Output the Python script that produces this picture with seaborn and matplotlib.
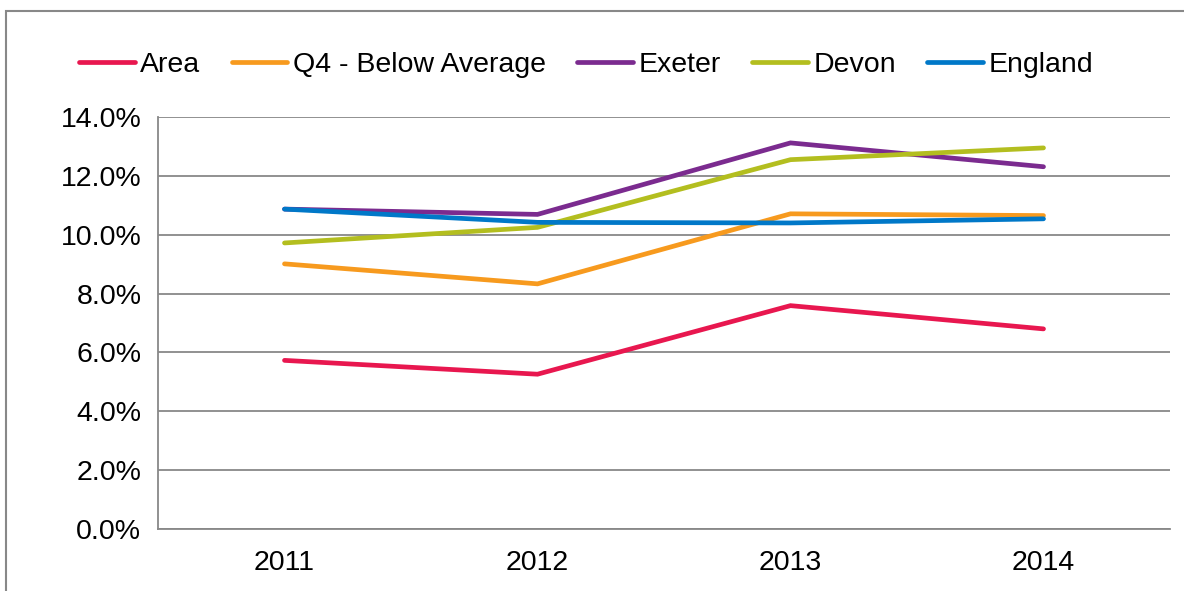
import seaborn as sns
import pandas as pd
import numpy as np
from matplotlib import pyplot as plt
from matplotlib.patches import Rectangle
from matplotlib.ticker import FuncFormatter

years = ["2011", "2012", "2013", "2014"]
area = [5.73, 5.26, 7.59, 6.80]
q4_below_avg = [9.01, 8.33, 10.71, 10.65]
exeter = [10.87, 10.69, 13.12, 12.31]
devon = [9.72, 10.25, 12.55, 12.95]
england = [10.87, 10.42, 10.40, 10.54]

series_names = ["Area", "Q4 - Below Average", "Exeter", "Devon", "England"]
colors = ["#E8174F", "#F79A1E", "#7B2B8F", "#B3BE1F", "#0078C8"]

sns.set_style("white")
plt.rcParams['font.family'] = ['Liberation Sans', 'DejaVu Sans']
plt.rcParams['text.color'] = 'black'
plt.rcParams['xtick.color'] = 'black'
plt.rcParams['ytick.color'] = 'black'

rows = []
for name, vals in zip(series_names, [area, q4_below_avg, exeter, devon, england]):
    for i, v in enumerate(vals):
        rows.append({"x": i, "year": years[i], "value": v, "series": name})
data = pd.DataFrame(rows)

fig = plt.figure(figsize=(11.84, 5.91), dpi=100)
ax = fig.add_axes([158/1184, 62/591, (1170-158)/1184, (529-117)/591])

lw = 3.4
sns.lineplot(data=data, x="x", y="value", hue="series", hue_order=series_names,
             palette=colors, linewidth=lw, ax=ax, legend=False,
             solid_capstyle="round", solid_joinstyle="miter")

grey = "#888888"
fs = 20.5
ax.set_ylim(0, 14)
ax.set_yticks(np.arange(0, 14.1, 2))
ax.yaxis.set_major_formatter(FuncFormatter(lambda v, _: f"{v:.1f}%"))
ax.grid(axis="y", color=grey, linewidth=1.3)
ax.set_axisbelow(True)

ax.set_xlim(-0.5, 3.5)
ax.set_xticks(np.arange(-0.5, 3.6, 1))
ax.set_xticklabels([])
ax.set_xticks(range(4), minor=True)
ax.set_xticklabels(years, minor=True)
ax.tick_params(axis="x", which="major", length=6, width=1.3, color=grey, direction="out")
ax.tick_params(axis="x", which="minor", length=0, pad=15, labelsize=fs, labelcolor="black")
ax.tick_params(axis="y", length=6, width=1.3, color=grey, direction="out", pad=6,
               labelsize=fs, labelcolor="black")
ax.set_xlabel("")
ax.set_ylabel("")

for s in ["top", "right"]:
    ax.spines[s].set_visible(False)
for s in ["left", "bottom"]:
    ax.spines[s].set_color(grey)
    ax.spines[s].set_linewidth(1.3)

handles = [plt.Line2D([], [], color=c, linewidth=lw, solid_capstyle="round") for c in colors]
fig.legend(handles, series_names, loc="center", bbox_to_anchor=(0.495, 1 - 65/591),
           ncol=5, frameon=False, fontsize=fs, handlelength=1.95, handletextpad=0.2,
           columnspacing=1.1, labelcolor="black")

fig.patches.append(Rectangle((6/1184, -0.1), 1.2, (591-11)/591 + 0.1, transform=fig.transFigure,
                             fill=False, edgecolor=grey, linewidth=1.5))

fig.savefig("out.png", dpi=100)
